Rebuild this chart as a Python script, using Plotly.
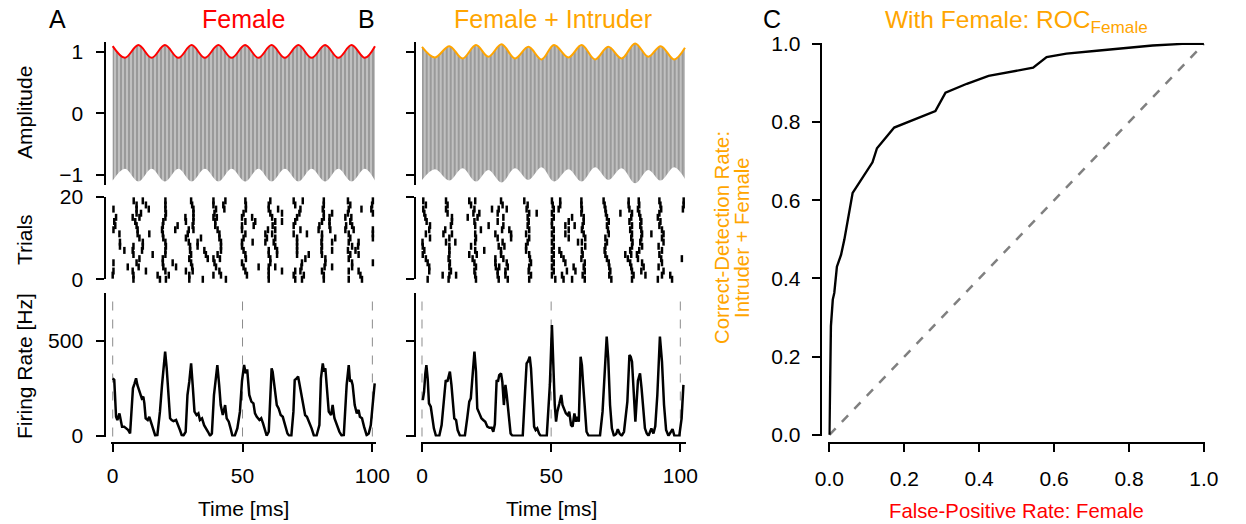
import plotly.graph_objects as go

W, H = 1246, 524
FONT = "Liberation Sans, Arial, Helvetica, sans-serif"
RED = "#ff0000"
ORANGE = "#ffa500"

# ---------------- data ----------------
# stimulus envelope (extrema of the amplitude-modulated EOD), time in ms
A_env_t = [0.0, 4.7, 9.9, 15.0, 20.1, 25.3, 30.4, 35.5, 40.7, 45.8, 51.0,
           56.1, 61.2, 66.3, 71.5, 76.6, 81.8, 86.9, 92.0, 97.1, 101.0]
A_env_amp = [1.09, 0.90, 1.107, 0.90, 1.107, 0.90, 1.107, 0.90, 1.107, 0.90, 1.107,
             0.90, 1.107, 0.90, 1.107, 0.90, 1.107, 0.90, 1.107, 0.90, 1.09]
B_env_t = [0.0, 5.0, 10.6, 15.7, 20.9, 25.7, 30.8, 36.0, 41.2, 46.3, 51.1,
           56.7, 61.8, 67.0, 72.1, 77.3, 82.5, 87.6, 92.4, 97.6, 101.8]
B_env_amp = [1.08, 0.907, 1.09, 0.89, 1.107, 0.918, 1.12, 0.89, 1.08, 0.875, 1.107,
             0.907, 1.107, 0.875, 1.08, 0.89, 1.134, 0.918, 1.09, 0.875, 1.063]

# spike rasters: one list of spike times (ms) per trial, trial 0 first
A_spikes = [
    [8.0, 18.2, 20.5, 29.5, 34.7, 43.6, 60.1, 70.3, 72.9, 81.3, 90.9, 96.0],
    [0.0, 8.0, 17.3, 21.6, 29.5, 38.8, 41.7, 51.7, 60.1, 69.7, 73.6, 81.3, 95.4],
    [0.3, 7.7, 12.8, 20.3, 28.2, 30.8, 41.1, 51.1, 60.1, 65.2, 70.3, 72.3, 80.6, 90.9, 94.7],
    [5.8, 10.0, 19.5, 24.4, 30.6, 39.8, 50.4, 56.2, 60.1, 62.6, 72.7, 81.6, 84.5, 92.2],
    [0.3, 9.2, 19.3, 23.1, 30.2, 39.2, 49.8, 60.7, 72.9, 81.9, 92.2, 100.2],
    [10.3, 19.3, 29.5, 36.6, 38.8, 41.3, 51.3, 60.7, 74.2, 81.9, 90.9],
    [8.0, 15.4, 20.3, 30.2, 35.9, 40.4, 51.1, 60.1, 63.3, 71.0, 75.5, 80.6, 91.5, 94.7],
    [4.5, 7.7, 11.3, 20.3, 29.8, 35.3, 41.7, 50.4, 60.1, 63.3, 71.0, 80.4, 84.5, 90.6, 93.5],
    [2.8, 8.0, 11.6, 20.5, 29.8, 32.7, 41.7, 49.8, 62.6, 71.0, 80.6, 92.2, 94.5],
    [2.8, 11.6, 20.3, 29.3, 32.7, 41.7, 49.8, 53.9, 58.8, 62.0, 71.0, 80.4, 84.5, 90.9, 94.7],
    [10.3, 19.5, 28.2, 34.0, 41.1, 50.4, 59.4, 62.6, 71.0, 80.6, 85.7, 91.5, 100.2],
    [2.6, 9.6, 14.1, 19.3, 28.9, 41.1, 51.1, 58.8, 61.4, 69.7, 74.8, 80.6, 90.9, 100.2],
    [0.3, 9.6, 19.0, 24.1, 29.3, 31.1, 40.4, 49.8, 59.8, 62.6, 72.3, 79.3, 83.8, 89.6, 92.8, 100.2],
    [1.0, 9.2, 19.3, 25.0, 30.8, 39.5, 49.8, 54.3, 61.6, 69.7, 79.6, 83.5, 89.9, 92.2],
    [0.6, 8.7, 19.5, 28.2, 31.1, 39.5, 51.1, 54.9, 62.6, 65.2, 70.3, 80.6, 83.5, 91.5],
    [1.3, 7.7, 10.3, 20.3, 28.0, 31.1, 38.8, 40.1, 49.8, 53.7, 61.4, 71.0, 81.3, 83.5, 89.6, 91.9],
    [9.2, 10.9, 20.5, 31.1, 39.2, 50.4, 60.7, 65.2, 71.9, 81.3, 84.5, 90.6, 100.2],
    [0.3, 9.2, 13.9, 20.3, 31.1, 39.8, 43.0, 51.3, 60.1, 63.7, 72.3, 80.9, 90.9, 95.8, 99.6],
    [9.2, 12.8, 20.3, 30.6, 38.8, 42.6, 51.3, 60.1, 70.3, 81.3, 91.5, 99.9],
    [8.1, 11.6, 20.3, 30.2, 38.8, 43.4, 51.1, 60.7, 69.7, 73.2, 81.3, 90.6, 100.2],
]
B_spikes = [
    [2.2, 10.3, 20.9, 29.7, 33.2, 41.5, 51.6, 54.8, 58.1, 63.0, 73.3, 81.3, 91.3, 96.8],
    [8.0, 10.6, 13.2, 20.6, 29.3, 32.3, 42.2, 50.3, 54.2, 62.2, 72.5, 81.9, 86.5, 92.9, 96.1],
    [2.8, 11.2, 20.3, 29.3, 32.3, 41.3, 51.0, 56.1, 59.4, 63.0, 72.9, 81.3, 84.9, 93.5],
    [2.8, 10.6, 20.9, 28.6, 29.9, 33.2, 41.5, 50.3, 58.7, 62.6, 72.5, 81.0, 85.8, 91.6],
    [2.2, 10.8, 20.3, 28.4, 32.8, 42.2, 51.0, 55.5, 63.0, 72.3, 80.6, 85.2, 92.9],
    [1.5, 10.3, 19.6, 28.4, 31.5, 41.8, 50.3, 54.8, 61.7, 71.6, 79.7, 83.6, 92.6, 100.6],
    [0.3, 10.6, 18.3, 21.2, 30.6, 41.5, 51.0, 53.9, 62.2, 71.0, 78.7, 81.0, 83.2, 91.9],
    [0.9, 10.6, 20.6, 24.1, 30.6, 40.3, 50.3, 53.2, 61.9, 70.7, 80.6, 84.1, 92.9],
    [0.3, 10.6, 19.0, 29.7, 31.9, 40.3, 51.0, 63.2, 71.0, 81.3, 85.2, 91.6],
    [0.2, 9.3, 12.9, 20.6, 31.2, 40.9, 50.3, 60.4, 61.9, 71.6, 81.5, 84.5, 93.5],
    [3.1, 10.6, 20.9, 29.3, 34.5, 41.5, 51.0, 56.8, 63.2, 71.0, 81.0, 84.9, 92.9],
    [1.5, 8.3, 11.6, 20.6, 28.4, 34.5, 40.3, 50.3, 55.5, 62.6, 72.3, 81.3, 85.2, 88.8, 93.5],
    [2.8, 9.0, 22.8, 31.0, 33.8, 41.5, 51.0, 56.8, 61.9, 72.0, 80.6, 84.9, 92.9],
    [3.1, 11.2, 20.6, 25.8, 31.5, 40.9, 50.3, 55.5, 59.1, 62.2, 71.6, 81.3, 84.5, 91.9],
    [1.8, 11.6, 20.3, 29.3, 41.3, 50.3, 56.8, 62.6, 72.3, 80.3, 84.9, 92.3],
    [1.3, 11.6, 17.7, 21.5, 31.5, 40.9, 51.0, 58.1, 62.6, 71.6, 81.0, 84.5, 91.3],
    [0.9, 9.9, 19.9, 22.2, 29.3, 41.5, 44.4, 50.3, 61.7, 71.2, 76.8, 81.3, 84.1, 91.9],
    [0.5, 9.3, 20.3, 27.1, 29.7, 32.8, 40.5, 51.0, 52.9, 61.9, 71.0, 80.3, 83.6, 92.6, 101.0],
    [1.5, 9.9, 19.0, 31.2, 40.9, 50.6, 53.5, 61.7, 70.7, 80.0, 84.1, 92.3, 101.3],
    [0.5, 9.3, 18.3, 20.6, 30.6, 39.6, 50.3, 53.5, 61.7, 70.3, 80.0, 83.9, 91.9, 101.3],
]

# trial-averaged firing rate (Hz) over time (ms)
A_rate_t = [0.0, 0.6, 1.3, 1.8, 2.6, 3.1, 3.6, 4.4, 5.1, 6.0, 6.7, 7.2, 7.8, 8.4, 9.0, 9.5,
            10.3, 11.2, 11.8, 12.2, 12.7, 13.5, 14.1, 14.8, 15.7, 16.4, 17.2, 18.2, 19.0,
            19.5, 20.2, 20.8, 21.4, 22.1, 22.7, 23.4, 24.4, 25.3, 25.9, 26.6, 27.2, 28.1,
            28.8, 29.5, 30.2, 30.8, 31.5, 32.3, 33.0, 33.6, 34.4, 35.2, 35.9, 36.7, 37.5,
            38.2, 39.0, 39.8, 40.3, 41.0, 41.6, 42.4, 43.3, 43.9, 44.7, 45.4, 46.1, 47.0,
            48.0, 49.0, 49.8, 50.6, 51.2, 51.8, 52.6, 53.4, 54.2, 54.8, 55.5, 56.5, 57.2,
            57.9, 58.7, 59.3, 60.1, 60.8, 61.2, 61.6, 62.3, 63.2, 63.9, 64.7, 65.5, 66.4,
            67.3, 68.0, 68.8, 69.6, 70.1, 70.9, 71.4, 71.9, 72.5, 73.2, 74.1, 74.8, 75.7,
            76.6, 77.5, 78.5, 79.6, 80.2, 80.9, 81.4, 81.9, 82.4, 83.2, 84.1, 84.7, 85.4,
            86.3, 87.3, 88.2, 89.0, 90.1, 90.9, 91.4, 91.9, 92.4, 93.2, 94.0, 94.7, 95.2,
            96.0, 96.8, 97.8, 98.6, 99.4, 100.1, 100.9]
A_rate = [303, 295, 100, 83, 118, 90, 48, 48, 39, 30, 12, 120, 250, 275, 303, 268,
          232, 197, 206, 171, 92, 83, 100, 65, 21, 0, 3, 127, 268,
          338, 444, 356, 215, 92, 83, 77, 83, 56, 30, 3, 0, 21,
          215, 285, 382, 268, 127, 109, 118, 83, 92, 56, 42, 21, 0,
          12, 215, 312, 373, 268, 162, 109, 162, 92, 74, 39, 0, 0,
          39, 127, 290, 373, 330, 350, 215, 180, 171, 118, 100, 83, 92,
          65, 21, 0, 21, 268, 356, 338, 268, 162, 144, 109, 100, 56,
          12, 0, 0, 127, 294, 303, 312, 276, 232, 180, 109, 100, 74,
          39, 0, 0, 56, 303, 382, 338, 356, 268, 127, 109, 162, 92,
          56, 21, 0, 3, 268, 373, 285, 295, 268, 162, 118, 136, 100,
          92, 48, 3, 12, 56, 162, 276]

B_rate_t = [0.3, 0.8, 1.3, 1.7, 2.2, 2.7, 3.4, 4.0, 4.6, 5.4, 6.7, 7.6, 8.5, 9.2, 9.8,
            10.3, 10.8, 11.4, 11.9, 12.5, 13.2, 13.8, 14.7, 16.6, 17.5, 18.3, 18.9, 19.6,
            20.3, 20.9, 21.4, 22.2, 23.0, 23.7, 24.5, 25.3, 26.1, 27.0, 27.6, 28.2, 28.9,
            29.4, 29.9, 30.6, 31.1, 31.7, 32.3, 32.8, 33.4, 33.8, 34.3, 35.0, 39.0, 39.9,
            40.5, 41.0, 41.7, 42.2, 42.8, 43.4, 44.0, 44.6, 45.3, 45.9, 48.3, 49.5, 50.3,
            50.8, 51.4, 51.9, 52.4, 53.2, 53.9, 54.4, 55.1, 55.7, 56.4, 57.0, 57.7, 58.3,
            59.0, 59.6, 60.1, 60.7, 61.4, 61.9, 62.4, 63.1, 63.7, 64.5, 68.9, 69.9, 70.7,
            71.5, 72.1, 72.8, 73.5, 74.3, 75.2, 75.8, 76.5, 77.3, 78.2, 79.5, 80.3, 80.8,
            81.3, 81.8, 82.6, 83.6, 84.4, 85.0, 85.6, 86.3, 87.0, 87.7, 88.8, 89.6, 90.3,
            91.1, 92.1, 92.9, 93.7, 94.5, 95.4, 96.3, 97.0, 97.7, 99.6, 100.5, 101.2]
B_rate = [188, 232, 329, 373, 303, 171, 153, 92, 39, 0, 0, 56, 197, 294, 285,
          320, 338, 268, 180, 92, 83, 30, 0, 0, 92, 180, 197, 303,
          444, 338, 144, 118, 92, 83, 74, 48, 42, 42, 21, 60, 294,
          285, 320, 329, 285, 162, 268, 215, 127, 74, 12, 0, 0, 232,
          382, 391, 417, 356, 197, 48, 30, 39, 12, 0, 0, 268, 584,
          356, 162, 74, 127, 171, 215, 162, 136, 118, 109, 127, 56, 48,
          118, 74, 100, 74, 417, 373, 268, 127, 21, 0, 0, 127, 338,
          523, 408, 162, 39, 0, 10, 35, 12, 0, 21, 180, 426, 417,
          391, 268, 74, 290, 329, 250, 162, 39, 12, 0, 39, 12, 50,
          215, 523, 391, 162, 30, 0, 21, 35, 0, 0, 92, 268]

# stimulus cycle markers in the rate panels (ms)
cycle_marks_ms = [0, 50, 100]

# ROC curve: false-positive rate vs. correct-detection rate
roc_fpr = [0.0, 0.001, 0.003, 0.004, 0.009, 0.013, 0.02, 0.031, 0.04, 0.049, 0.062,
           0.115, 0.127, 0.173, 0.283, 0.31, 0.367, 0.425, 0.544, 0.58, 0.633,
           0.721, 0.819, 0.863, 0.942, 1.0]
roc_tpr = [0.0, 0.117, 0.2, 0.278, 0.346, 0.363, 0.43, 0.46, 0.5, 0.549, 0.619,
           0.697, 0.733, 0.786, 0.828, 0.875, 0.898, 0.918, 0.939, 0.966, 0.975,
           0.983, 0.992, 0.996, 1.0, 1.0]
chance = [0.0, 1.0]


# ---------------- helpers ----------------
def fx(p):
    return p / W


def fy(p):
    return 1 - p / H


axis_style = dict(showline=True, linewidth=2, linecolor="black", ticks="outside",
                  ticklen=8, tickwidth=2, tickcolor="black", showgrid=False,
                  zeroline=False, automargin=False,
                  tickfont=dict(family=FONT, size=21, color="black"))

fig = go.Figure()

A_xdom, A_xrng = [fx(111), fx(376)], [-0.65, 101.4]
B_xdom, B_xrng = [fx(420.7), fx(686)], [-0.5, 102.2]
amp_ydom = [fy(185), fy(41.7)]
ras_ydom = [fy(279.3), fy(196.7)]
rate_ydom = [fy(436.5), fy(293)]
rate_xpos = fy(443)

panels = [
    (("", "2", "3"), A_xdom, A_xrng, fx(105.3), True, A_env_t, A_env_amp, RED, A_spikes, A_rate_t, A_rate),
    (("4", "5", "6"), B_xdom, B_xrng, fx(414.7), False, B_env_t, B_env_amp, ORANGE, B_spikes, B_rate_t, B_rate),
]


def key(a):
    return ("xaxis" if a[0] == "x" else "yaxis") + a[1:]


layout_axes = {}
for (s_amp, s_ras, s_rate), xdom, xrng, ypos, ylab, et, ea, ecol, spikes, rt, rv in panels:
    xa_amp, ya_amp = "x" + s_amp, "y" + s_amp
    xa_ras, ya_ras = "x" + s_ras, "y" + s_ras
    xa_rate, ya_rate = "x" + s_rate, "y" + s_rate

    # carrier: striped band between the lower and upper envelope
    fig.add_trace(go.Scatter(x=et, y=[-v for v in ea], mode="lines",
                             line=dict(width=0, shape="spline", color="#808080"),
                             xaxis=xa_amp, yaxis=ya_amp, hoverinfo="skip"))
    fig.add_trace(go.Scatter(x=et, y=ea, mode="lines", fill="tonexty",
                             line=dict(width=0, shape="spline", color="#808080"),
                             fillcolor="#c4c4c4",
                             fillpattern=dict(shape="|", size=4, solidity=0.55,
                                              fgcolor="#707070", bgcolor="#c4c4c4"),
                             xaxis=xa_amp, yaxis=ya_amp, hoverinfo="skip"))
    # envelope
    fig.add_trace(go.Scatter(x=et, y=ea, mode="lines",
                             line=dict(width=2, shape="spline", color=ecol),
                             xaxis=xa_amp, yaxis=ya_amp))

    # raster
    xs, ys = [], []
    for k, trial in enumerate(spikes):
        xs.extend(trial)
        ys.extend([k] * len(trial))
    fig.add_trace(go.Scatter(x=xs, y=ys, mode="markers", cliponaxis=False,
                             marker=dict(symbol="line-ns", size=5,
                                         line=dict(width=2.5, color="black")),
                             xaxis=xa_ras, yaxis=ya_ras))

    # firing rate
    fig.add_trace(go.Scatter(x=rt, y=rv, mode="lines",
                             line=dict(width=2.5, color="black"),
                             xaxis=xa_rate, yaxis=ya_rate))
    for tm in cycle_marks_ms:
        fig.add_shape(type="line", xref=xa_rate, yref=ya_rate + " domain",
                      x0=tm, x1=tm, y0=0, y1=1, layer="below",
                      line=dict(color="#8c8c8c", width=1, dash="dash"))

    layout_axes[key(xa_amp)] = dict(domain=xdom, range=xrng, visible=False,
                                    anchor=ya_amp, automargin=False)
    layout_axes[key(xa_ras)] = dict(domain=xdom, range=xrng, visible=False,
                                    anchor=ya_ras, automargin=False)
    layout_axes[key(xa_rate)] = dict(axis_style, domain=xdom, range=xrng, anchor="free",
                                     position=rate_xpos, tickvals=[0, 50, 100],
                                     ticklabelstandoff=6)
    layout_axes[key(ya_amp)] = dict(axis_style, domain=amp_ydom, range=[-1.162, 1.162],
                                    anchor="free", position=ypos, tickvals=[-1, 0, 1],
                                    showticklabels=ylab, ticklabelstandoff=9)
    layout_axes[key(ya_ras)] = dict(axis_style, domain=ras_ydom, range=[0, 20],
                                    anchor="free", position=ypos, tickvals=[0, 20],
                                    showticklabels=ylab, ticklabelstandoff=9)
    layout_axes[key(ya_rate)] = dict(axis_style, domain=rate_ydom, range=[-4, 753],
                                     anchor="free", position=ypos, tickvals=[0, 500],
                                     showticklabels=ylab, ticklabelstandoff=9)

# ROC panel
fig.add_trace(go.Scatter(x=chance, y=chance, mode="lines", xaxis="x7", yaxis="y7",
                         line=dict(color="#808080", width=2.5, dash="dash")))
fig.add_trace(go.Scatter(x=roc_fpr, y=roc_tpr, mode="lines", xaxis="x7", yaxis="y7",
                         line=dict(color="black", width=2.4)))
roc_ticks = [0.0, 0.2, 0.4, 0.6, 0.8, 1.0]
layout_axes["xaxis7"] = dict(axis_style, domain=[fx(828.3), fx(1205)], range=[-0.003, 1.003],
                             anchor="free", position=fy(443.3), tickvals=roc_ticks,
                             tickformat=".1f", ticklabelstandoff=8)
layout_axes["yaxis7"] = dict(axis_style, domain=[fy(436), fy(42.7)], range=[-0.003, 1.003],
                             anchor="free", position=fx(820.7), tickvals=roc_ticks,
                             tickformat=".1f", ticklabelstandoff=7)


def ann(text, px, py, size=21, color="black", angle=0):
    return dict(text=text, x=fx(px), y=fy(py), xref="paper", yref="paper",
                showarrow=False, textangle=angle, xanchor="center", yanchor="middle",
                font=dict(family=FONT, size=size, color=color))


annotations = [
    ann("A", 57.5, 19, 25), ann("B", 367, 19, 25), ann("C", 772, 19, 25),
    ann("Female", 244, 19, 25, RED),
    ann("Female + Intruder", 553, 19, 25, ORANGE),
    ann("With Female: ROC<sub>Female</sub>", 1016, 21, 24.5, ORANGE),
    ann("Amplitude", 24, 113, 21, angle=-90),
    ann("Trials", 24, 240, 21, angle=-90),
    ann("Firing Rate [Hz]", 24, 366, 21, angle=-90),
    ann("Time [ms]", 243, 508, 21),
    ann("Time [ms]", 551, 508, 21),
    ann("False-Positive Rate: Female", 1016, 511, 20.3, RED),
    ann("Correct-Detection Rate:", 722, 238, 20.3, ORANGE, -90),
    ann("Intruder + Female", 742, 238, 20.3, ORANGE, -90),
]

fig.update_layout(width=W, height=H, margin=dict(l=0, r=0, t=0, b=0, pad=0),
                  autosize=False,
                  paper_bgcolor="white", plot_bgcolor="white", showlegend=False,
                  font=dict(family=FONT, size=21, color="black"),
                  annotations=annotations, **layout_axes)

fig.write_html("out.html")
